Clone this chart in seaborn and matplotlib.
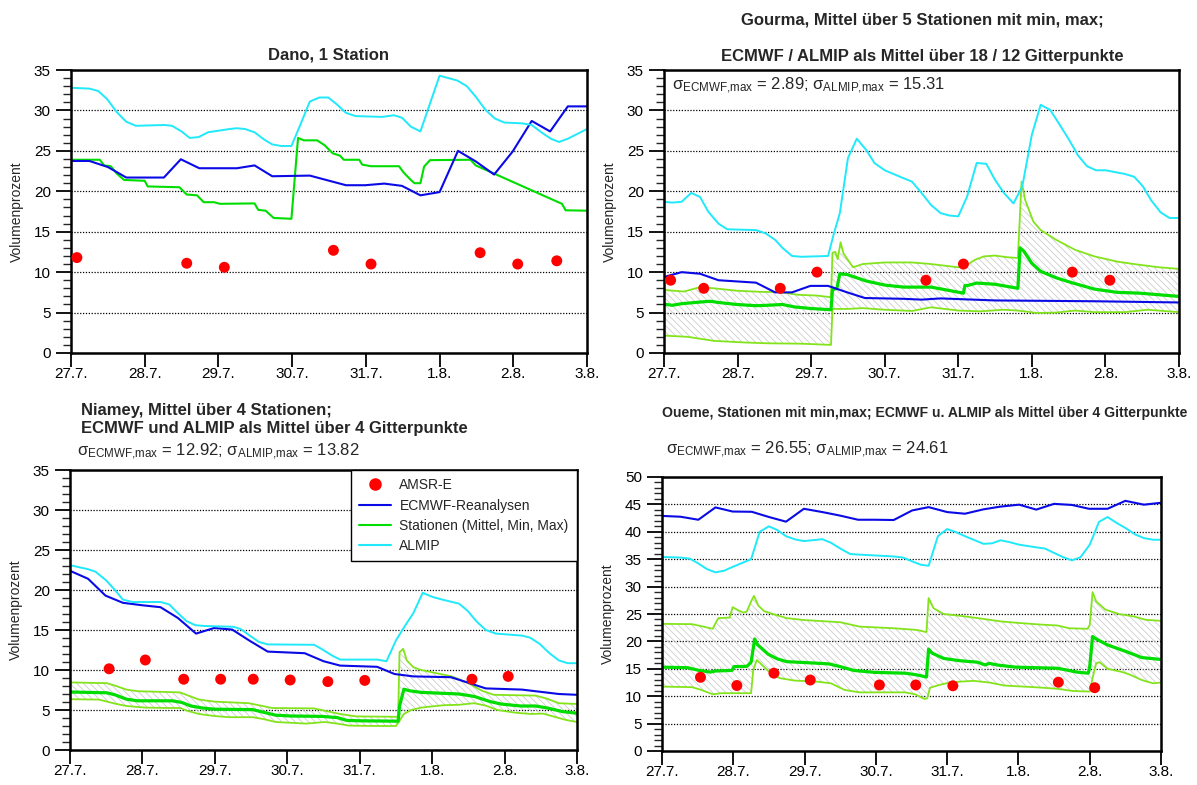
import numpy as np
import matplotlib
matplotlib.use('Agg')
import matplotlib.pyplot as plt
import seaborn as sns
from matplotlib.lines import Line2D
from matplotlib.ticker import MultipleLocator

# x axis: days after 27.7. 00:00
day_labels = ['27.7.', '28.7.', '29.7.', '30.7.', '31.7.', '1.8.', '2.8.', '3.8.']

# ---------------- Dano, 1 Station ----------------
dano_almip_t = [0, 0.25, 0.37, 0.49, 0.62, 0.75, 0.88, 1.27, 1.37, 1.5, 1.61, 1.73, 1.86, 2.15, 2.25, 2.36,
                2.49, 2.62, 2.73, 2.85, 2.99, 3.11, 3.24, 3.37, 3.49, 3.6, 3.73, 3.86, 4.22, 4.38, 4.49, 4.61,
                4.74, 5.0, 5.24, 5.37, 5.49, 5.62, 5.75, 5.88, 6.12, 6.25, 6.38, 6.51, 6.62, 6.74, 7.0]
dano_almip = [32.8, 32.7, 32.4, 31.4, 29.8, 28.6, 28.1, 28.2, 28.1, 27.4, 26.6, 26.7, 27.3, 27.7, 27.8, 27.7,
              27.3, 26.4, 25.8, 25.6, 25.6, 28.2, 31.1, 31.6, 31.6, 30.8, 29.7, 29.3, 29.2, 29.4, 29.1, 28.0,
              27.4, 34.3, 33.7, 33.0, 31.7, 30.1, 29.0, 28.5, 28.4, 28.2, 27.3, 26.5, 26.1, 26.5, 27.7]
dano_ecmwf_t = [0, 0.25, 0.5, 0.75, 1.26, 1.49, 1.74, 2.25, 2.49, 2.73, 3.24, 3.73, 3.99, 4.25, 4.49, 4.74,
                5.0, 5.25, 5.49, 5.74, 5.99, 6.25, 6.5, 6.74, 7.0]
dano_ecmwf = [23.75, 23.75, 23.0, 21.7, 21.7, 23.96, 22.85, 22.85, 23.2, 21.86, 21.94, 20.75, 20.75, 20.95,
              20.67, 19.5, 19.9, 25.0, 23.7, 22.07, 24.9, 28.7, 27.4, 30.5, 30.5]
dano_stat_t = [0, 0.39, 0.45, 0.54, 0.62, 0.72, 1.0, 1.04, 1.47, 1.57, 1.71, 1.8, 1.94, 2.02, 2.49, 2.54,
               2.64, 2.75, 2.99, 3.08, 3.16, 3.34, 3.44, 3.55, 3.65, 3.7, 3.91, 3.95, 4.07, 4.45, 4.51, 4.61,
               4.66, 4.74, 4.79, 4.87, 5.42, 5.49, 5.75, 6.66, 6.71, 7.0]
dano_stat = [23.9, 23.9, 23.2, 23.1, 22.2, 21.4, 21.3, 20.6, 20.5, 19.6, 19.5, 18.65, 18.65, 18.45, 18.5, 17.7,
             17.6, 16.7, 16.6, 26.6, 26.3, 26.3, 25.7, 24.7, 24.4, 23.9, 23.9, 23.3, 23.1, 23.1, 22.35, 21.4,
             21.0, 21.0, 23.05, 23.85, 23.9, 23.2, 22.15, 18.45, 17.65, 17.6]
dano_amsr_t = [0.08, 1.57, 2.08, 3.56, 4.07, 5.55, 6.06, 6.59]
dano_amsr = [11.8, 11.1, 10.6, 12.7, 11.0, 12.4, 11.0, 11.4]

# ---------------- Gourma ----------------
gourma_almip_t = [0, 0.11, 0.24, 0.37, 0.49, 0.6, 0.74, 0.86, 1.25, 1.38, 1.51, 1.61, 1.74, 1.87, 2.23, 2.31,
                  2.39, 2.5, 2.62, 2.75, 2.86, 3.0, 3.26, 3.37, 3.5, 3.63, 3.76, 3.88, 4.0, 4.12, 4.25, 4.38,
                  4.5, 4.62, 4.75, 4.87, 5.0, 5.12, 5.25, 5.38, 5.51, 5.63, 5.75, 5.87, 6.0, 6.26, 6.39, 6.51,
                  6.62, 6.75, 6.87, 7.0]
gourma_almip = [18.7, 18.6, 18.7, 19.8, 19.3, 17.5, 16.0, 15.3, 15.2, 14.8, 14.0, 13.0, 12.0, 11.9, 12.0, 14.8,
                17.3, 24.1, 26.5, 25.1, 23.5, 22.6, 21.6, 21.2, 19.8, 18.3, 17.3, 17.0, 16.9, 19.35, 23.5, 23.4,
                21.4, 19.8, 18.5, 20.6, 27.0, 30.7, 30.05, 28.2, 26.3, 24.4, 23.1, 22.6, 22.6, 22.15, 21.8, 20.6,
                18.9, 17.4, 16.7, 16.7]
gourma_ecmwf_t = [0, 0.24, 0.49, 0.74, 1.25, 1.51, 1.74, 1.99, 2.23, 2.49, 2.73, 3.26, 3.5, 3.76, 4.5, 5.85, 7.0]
gourma_ecmwf = [9.4, 10.0, 9.8, 9.0, 8.7, 7.5, 7.5, 8.3, 8.3, 7.5, 6.8, 6.7, 6.6, 6.75, 6.5, 6.4, 6.25]
gourma_mean_t = [0, 0.11, 0.24, 0.49, 0.63, 0.74, 0.99, 1.25, 1.4, 1.61, 1.77, 2.0, 2.27, 2.29, 2.35, 2.39,
                 2.49, 2.75, 3.0, 3.26, 3.63, 4.07, 4.09, 4.13, 4.25, 4.5, 4.81, 4.84, 4.89, 5.0, 5.12, 5.33,
                 5.54, 5.85, 6.16, 6.47, 6.73, 7.0]
gourma_mean = [6.05, 5.9, 6.1, 6.3, 6.4, 6.25, 6.0, 5.85, 5.9, 6.0, 5.7, 5.5, 5.35, 7.8, 8.0, 9.8,
               9.7, 8.9, 8.4, 8.15, 8.15, 7.4, 8.35, 8.35, 8.65, 8.5, 8.0, 13.0, 12.6, 11.1, 10.1, 9.3,
               8.7, 7.9, 7.5, 7.4, 7.2, 7.0]
gourma_max_t = [0, 0.27, 0.49, 0.68, 0.99, 1.35, 1.56, 1.82, 2.08, 2.27, 2.29, 2.33, 2.36, 2.4, 2.44, 2.57,
                2.7, 3.0, 3.37, 3.63, 4.0, 4.09, 4.22, 4.35, 4.5, 4.66, 4.81, 4.86, 4.91, 5.02, 5.12, 5.33,
                5.59, 5.85, 6.16, 6.47, 6.73, 7.0]
gourma_max = [7.8, 7.6, 8.15, 8.0, 7.7, 7.55, 7.55, 7.2, 7.1, 6.9, 12.4, 12.5, 11.6, 13.7, 12.3, 10.6,
              11.0, 11.2, 11.2, 11.0, 10.6, 10.7, 11.5, 11.95, 12.05, 11.85, 11.75, 21.2, 18.9, 16.25, 15.2, 14.0,
              12.75, 11.95, 11.3, 10.9, 10.6, 10.4]
gourma_min_t = [0, 0.32, 0.68, 1.1, 1.4, 1.87, 2.27, 2.29, 2.49, 2.7, 3.0, 3.37, 3.63, 4.0, 4.3, 4.61,
                4.81, 5.07, 5.33, 5.59, 5.85, 6.26, 6.57, 7.0]
gourma_min = [2.15, 2.0, 1.5, 1.3, 1.2, 1.15, 1.0, 5.45, 5.45, 5.55, 5.35, 5.2, 5.65, 5.25, 5.15, 5.35,
              5.25, 4.95, 5.0, 5.25, 5.05, 5.05, 5.35, 5.05]
gourma_amsr_t = [0.09, 0.54, 1.58, 2.08, 3.56, 4.07, 5.55, 6.06]
gourma_amsr = [9, 8, 8, 10, 9, 11, 10, 9]

# ---------------- Niamey ----------------
niamey_almip_t = [0, 0.25, 0.35, 0.5, 0.62, 0.73, 0.86, 1.25, 1.37, 1.49, 1.61, 1.73, 1.86, 2.26, 2.36, 2.49,
                  2.61, 2.73, 3.37, 3.47, 3.62, 3.73, 4.24, 4.37, 4.5, 4.62, 4.74, 4.87, 5.0, 5.14, 5.37, 5.49,
                  5.61, 5.74, 5.88, 6.24, 6.35, 6.48, 6.62, 6.75, 6.87, 7.0]
niamey_almip = [23.1, 22.6, 22.3, 21.2, 20.0, 18.8, 18.5, 18.5, 18.2, 17.1, 16.1, 15.6, 15.5, 15.4, 15.1, 14.25,
                13.5, 13.2, 13.15, 12.65, 11.8, 11.3, 11.3, 11.1, 13.7, 15.45, 17.1, 19.65, 19.15, 18.8, 18.3, 17.4,
                16.1, 15.0, 14.55, 14.3, 14.05, 13.3, 12.1, 11.2, 10.85, 10.85]
niamey_ecmwf_t = [0, 0.25, 0.49, 0.73, 0.99, 1.25, 1.49, 1.74, 1.99, 2.24, 2.49, 2.73, 3.24, 3.5, 3.73, 4.24,
                  4.48, 4.74, 5.26, 5.74, 6.24, 6.75, 7.0]
niamey_ecmwf = [22.4, 21.4, 19.3, 18.4, 18.1, 17.85, 16.5, 14.55, 15.25, 15.05, 13.6, 12.3, 12.1, 11.1, 10.55, 10.4,
                9.5, 9.2, 9.1, 7.7, 7.55, 7.0, 6.9]
niamey_mean_t = [0, 0.51, 0.62, 0.78, 0.93, 1.41, 1.54, 1.67, 1.83, 1.99, 2.52, 2.68, 2.84, 3.05, 3.48, 3.69,
                 3.82, 4.0, 4.53, 4.55, 4.61, 4.69, 4.85, 5.37, 5.58, 5.8, 5.95, 6.22, 6.43, 6.59, 6.8, 7.0]
niamey_mean = [7.25, 7.15, 6.9, 6.35, 6.15, 6.15, 5.95, 5.5, 5.25, 5.1, 5.05, 4.7, 4.35, 4.25, 4.2, 4.05,
               3.7, 3.65, 3.6, 5.5, 7.6, 7.4, 7.2, 7.0, 6.7, 6.05, 5.75, 5.5, 5.5, 5.25, 4.8, 4.6]
niamey_max_t = [0, 0.51, 0.62, 0.78, 0.93, 1.52, 1.62, 1.78, 1.99, 2.47, 2.63, 2.79, 3.37, 3.52, 3.73, 3.95,
                4.53, 4.55, 4.58, 4.6, 4.65, 4.74, 4.85, 5.06, 5.27, 5.48, 5.69, 5.85, 6.43, 6.59, 6.75, 7.0]
niamey_max = [8.45, 8.35, 8.05, 7.55, 7.35, 7.2, 6.85, 6.3, 6.05, 5.85, 5.55, 5.25, 5.2, 4.9, 4.5, 4.2,
              4.15, 12.25, 12.45, 12.65, 11.2, 10.35, 10.0, 9.6, 9.2, 8.45, 7.4, 6.9, 6.8, 6.4, 5.85, 5.75]
niamey_min_t = [0, 0.4, 0.62, 0.78, 1.04, 1.36, 1.52, 1.62, 1.78, 1.99, 2.2, 2.52, 2.68, 2.84, 3.26, 3.52,
                3.69, 3.85, 4.21, 4.5, 4.55, 4.61, 4.71, 4.85, 5.16, 5.37, 5.58, 5.74, 5.9, 6.16, 6.37, 6.53,
                6.69, 6.85, 7.0]
niamey_min = [6.35, 6.3, 5.8, 5.5, 5.3, 5.25, 5.25, 4.9, 4.5, 4.25, 4.1, 4.1, 3.85, 3.5, 3.3, 3.5,
              3.3, 3.05, 3.0, 3.0, 3.65, 4.5, 5.0, 5.3, 5.6, 5.65, 5.85, 5.55, 5.0, 4.65, 4.5, 4.55,
              4.15, 3.75, 3.5]
niamey_amsr_t = [0.54, 1.04, 1.57, 2.08, 2.53, 3.04, 3.56, 4.07, 5.55, 6.05]
niamey_amsr = [10.15, 11.25, 8.85, 8.85, 8.85, 8.75, 8.55, 8.7, 8.85, 9.2]

# ---------------- Oueme ----------------
oueme_ecmwf_t = [0, 0.26, 0.51, 0.75, 0.99, 1.26, 1.5, 1.74, 1.99, 2.25, 2.5, 2.75, 2.99, 3.25, 3.51, 3.74,
                 4.0, 4.25, 4.51, 4.75, 5.01, 5.25, 5.5, 5.75, 5.99, 6.25, 6.5, 6.76, 7.0]
oueme_ecmwf = [42.9, 42.75, 42.2, 44.45, 43.7, 43.65, 42.7, 41.85, 44.2, 43.6, 42.95, 42.2, 42.2, 42.15, 43.9, 44.5,
               43.6, 43.3, 44.1, 44.6, 44.95, 44.05, 45.1, 44.9, 44.2, 44.2, 45.65, 44.95, 45.3]
oueme_almip_t = [0, 0.26, 0.39, 0.5, 0.63, 0.75, 0.87, 1.01, 1.25, 1.37, 1.5, 1.62, 1.74, 1.87, 1.99, 2.25,
                 2.37, 2.5, 2.64, 2.75, 3.25, 3.38, 3.51, 3.63, 3.74, 3.87, 4.0, 4.13, 4.25, 4.39, 4.51, 4.63,
                 4.75, 4.88, 5.01, 5.23, 5.37, 5.5, 5.63, 5.75, 5.87, 6.0, 6.13, 6.25, 6.38, 6.5, 6.64, 6.76,
                 6.89, 7.0]
oueme_almip = [35.4, 35.3, 35.1, 34.3, 33.2, 32.6, 32.9, 33.7, 35.0, 40.0, 41.0, 40.3, 39.2, 38.6, 38.3, 38.65,
               38.0, 36.95, 35.95, 35.85, 35.5, 35.3, 34.6, 34.0, 33.8, 39.2, 40.5, 39.9, 39.2, 38.45, 37.8, 37.9,
               38.45, 38.1, 37.65, 37.2, 36.95, 36.15, 35.35, 34.8, 35.35, 37.65, 41.8, 42.7, 41.6, 40.7, 39.5, 38.85,
               38.55, 38.55]
oueme_mean_t = [0, 0.36, 0.52, 0.68, 0.75, 0.98, 1.01, 1.19, 1.25, 1.3, 1.34, 1.49, 1.62, 1.75, 1.99, 2.34,
                2.5, 2.69, 2.98, 3.41, 3.57, 3.71, 3.74, 3.79, 3.95, 4.16, 4.43, 4.53, 4.59, 4.7, 4.96, 5.55,
                5.82, 5.98, 6.0, 6.04, 6.09, 6.25, 6.51, 6.73, 7.0]
oueme_mean = [15.3, 15.2, 14.7, 14.4, 14.6, 14.7, 15.4, 15.45, 16.2, 20.45, 19.4, 17.65, 16.8, 16.3, 16.15, 15.9,
              15.4, 14.7, 14.35, 14.2, 13.9, 13.5, 18.6, 17.85, 16.9, 16.5, 16.2, 15.7, 16.0, 15.7, 15.3, 15.1,
              14.4, 14.2, 15.4, 20.9, 20.45, 19.35, 18.15, 17.05, 16.7]
oueme_max_t = [0, 0.42, 0.58, 0.71, 0.79, 0.95, 0.99, 1.06, 1.14, 1.19, 1.25, 1.29, 1.35, 1.43, 1.59, 1.75,
               1.99, 2.5, 2.77, 3.25, 3.57, 3.71, 3.74, 3.81, 3.95, 4.16, 4.43, 4.75, 5.02, 5.34, 5.55, 5.71,
               5.97, 6.0, 6.04, 6.09, 6.22, 6.41, 6.62, 6.78, 7.0]
oueme_max = [23.2, 23.15, 22.7, 22.3, 24.25, 24.35, 26.25, 25.75, 25.25, 25.45, 27.3, 28.3, 26.55, 25.55, 24.85, 24.25,
             23.9, 23.5, 22.7, 22.4, 22.1, 21.7, 27.9, 26.05, 25.0, 24.7, 24.25, 23.65, 23.35, 23.05, 22.9, 22.4,
             22.3, 23.0, 29.0, 27.3, 25.8, 25.0, 24.55, 23.95, 23.75]
oueme_min_t = [0, 0.42, 0.55, 0.71, 0.84, 1.25, 1.28, 1.33, 1.38, 1.49, 1.65, 1.86, 2.18, 2.37, 2.56, 2.77,
               3.41, 3.55, 3.68, 3.72, 3.76, 3.89, 4.05, 4.37, 4.59, 4.8, 5.28, 5.55, 5.76, 6.0, 6.04, 6.09,
               6.14, 6.25, 6.46, 6.57, 6.73, 6.89, 7.0]
oueme_min = [11.75, 11.65, 11.15, 10.35, 10.55, 10.55, 14.8, 16.6, 16.0, 14.6, 13.3, 12.85, 12.65, 12.35, 11.15, 10.7,
             10.7, 10.35, 9.5, 9.6, 11.55, 12.05, 12.55, 12.8, 12.5, 11.95, 11.6, 11.35, 10.95, 10.85, 13.3, 16.0,
             16.2, 15.0, 14.4, 13.9, 12.95, 12.35, 12.5]
oueme_amsr_t = [0.54, 1.05, 1.57, 2.08, 3.05, 3.56, 4.08, 5.56, 6.07]
oueme_amsr = [13.45, 11.95, 14.2, 12.95, 12.05, 12.05, 11.9, 12.55, 11.55]

# colours
c_amsr = '#ff0000'
c_ecmwf = '#0a0ae6'
c_stat = '#00dd00'
c_minmax = '#84e41c'
c_almip = '#1fe9fa'
c_hatch = '#cdcdcd'

sns.set_style('ticks')
plt.rcParams['font.family'] = ['Liberation Sans', 'DejaVu Sans']
plt.rcParams['mathtext.default'] = 'regular'
plt.rcParams['hatch.linewidth'] = 0.6

W, H = 1197, 785
fig = plt.figure(figsize=(W / 100, H / 100), dpi=100)


def px_axes(left, top, right, bottom):
    ax = fig.add_axes([left / W, 1 - bottom / H, (right - left) / W, (bottom - top) / H])
    ax.set_facecolor('white')
    return ax


def ftext(x, y, s, **kw):
    fig.text(x / W, 1 - y / H, s, **kw)


def line(ax, t, y, color, lw):
    sns.lineplot(x=np.array(t), y=np.array(y), ax=ax, color=color, linewidth=lw,
                 sort=False, estimator=None, legend=False)


def band(ax, tmax, ymax, tmin, ymin):
    xs = np.concatenate([tmax, tmin[::-1]])
    ys = np.concatenate([ymax, ymin[::-1]])
    ax.fill(xs, ys, facecolor='none', edgecolor=c_hatch, hatch='\\\\\\\\\\', linewidth=0, zorder=1)


def dots(ax, t, y):
    sns.scatterplot(x=t, y=y, ax=ax, color=c_amsr, s=62, edgecolor='none', zorder=5, legend=False)


def style(ax, ytop, width_px):
    ax.set_xlim(0, 7)
    ax.set_ylim(0, ytop)
    ax.set_xticks(range(8))
    ax.set_xticklabels(day_labels)
    ax.yaxis.set_major_locator(MultipleLocator(5))
    ax.yaxis.set_minor_locator(MultipleLocator(1))
    ax.grid(False)
    ax.yaxis.grid(True, which='major', color='black', linestyle=(0, (1, 1.3)), linewidth=0.9)
    ax.set_axisbelow(True)
    ax.tick_params(axis='y', which='major', length=11, width=1.3, direction='out', labelsize=11,
                   pad=3.5, right=False, colors='black')
    ax.tick_params(axis='y', which='minor', length=6, width=1.0, direction='out', right=False)
    ax.tick_params(axis='x', which='major', length=10, width=1.3, direction='out', labelsize=11,
                   pad=0, top=False, colors='black')
    ax.tick_params(axis='x', which='minor', bottom=False, top=False)
    for s in ax.spines.values():
        s.set_visible(True)
        s.set_linewidth(1.8)
        s.set_color('black')
    ax.set_xlabel('')
    ax.set_ylabel('Volumenprozent', fontsize=10)
    ax.yaxis.set_label_coords(-47 / width_px, 0.5)


sig = r'$\sigma_{ECMWF{,}max}$ = {e}; $\sigma_{ALMIP{,}max}$ = {a}'

# ---- top left: Dano ----
ax1 = px_axes(71, 70, 587, 353)
line(ax1, dano_stat_t, dano_stat, c_stat, 1.5)
line(ax1, dano_ecmwf_t, dano_ecmwf, c_ecmwf, 1.5)
line(ax1, dano_almip_t, dano_almip, c_almip, 1.4)
dots(ax1, dano_amsr_t, dano_amsr)
style(ax1, 35, 516)
ftext(329, 55, 'Dano, 1 Station', ha='center', va='center', fontsize=12, fontweight='bold')

# ---- top right: Gourma ----
ax2 = px_axes(664, 70, 1179, 353)
band(ax2, gourma_max_t, gourma_max, gourma_min_t, gourma_min)
line(ax2, gourma_max_t, gourma_max, c_minmax, 1.3)
line(ax2, gourma_min_t, gourma_min, c_minmax, 1.3)
line(ax2, gourma_mean_t, gourma_mean, c_stat, 2.3)
line(ax2, gourma_ecmwf_t, gourma_ecmwf, c_ecmwf, 1.5)
line(ax2, gourma_almip_t, gourma_almip, c_almip, 1.4)
dots(ax2, gourma_amsr_t, gourma_amsr)
style(ax2, 35, 515)
ftext(922, 20, 'Gourma, Mittel über 5 Stationen mit min, max;', ha='center', va='center',
      fontsize=12, fontweight='bold')
ftext(922, 57, 'ECMWF / ALMIP als Mittel über 18 / 12 Gitterpunkte', ha='center', va='center',
      fontsize=12, fontweight='bold')
ftext(672, 86, sig.replace('{e}', '2.89').replace('{a}', '15.31'), ha='left', va='center', fontsize=12)

# ---- bottom left: Niamey ----
ax3 = px_axes(70, 470, 577, 750)
band(ax3, niamey_max_t, niamey_max, niamey_min_t, niamey_min)
line(ax3, niamey_max_t, niamey_max, c_minmax, 1.3)
line(ax3, niamey_min_t, niamey_min, c_minmax, 1.3)
line(ax3, niamey_mean_t, niamey_mean, c_stat, 2.3)
line(ax3, niamey_ecmwf_t, niamey_ecmwf, c_ecmwf, 1.5)
line(ax3, niamey_almip_t, niamey_almip, c_almip, 1.4)
dots(ax3, niamey_amsr_t, niamey_amsr)
style(ax3, 35, 507)
ftext(81, 410, 'Niamey, Mittel über 4 Stationen;', ha='left', va='center', fontsize=12, fontweight='bold')
ftext(81, 428, 'ECMWF und ALMIP als Mittel über 4 Gitterpunkte', ha='left', va='center',
      fontsize=12, fontweight='bold')
ftext(77, 452, sig.replace('{e}', '12.92').replace('{a}', '13.82'), ha='left', va='center', fontsize=12)

handles = [Line2D([], [], marker='o', color=c_amsr, linestyle='none', markersize=8),
           Line2D([], [], color=c_ecmwf, lw=1.5),
           Line2D([], [], color=c_stat, lw=1.5),
           Line2D([], [], color=c_almip, lw=1.5)]
labels = ['AMSR-E', 'ECMWF-Reanalysen', 'Stationen (Mittel, Min, Max)', 'ALMIP']
leg = ax3.legend(handles, labels, loc='upper right', frameon=True, fancybox=False, edgecolor='black',
                 framealpha=1, fontsize=10, borderaxespad=0, handlelength=2.3, labelspacing=0.45,
                 borderpad=0.6, handletextpad=0.6)
leg.get_frame().set_linewidth(1.0)

# ---- bottom right: Oueme ----
ax4 = px_axes(662, 477, 1161, 751)
band(ax4, oueme_max_t, oueme_max, oueme_min_t, oueme_min)
line(ax4, oueme_max_t, oueme_max, c_minmax, 1.3)
line(ax4, oueme_min_t, oueme_min, c_minmax, 1.3)
line(ax4, oueme_mean_t, oueme_mean, c_stat, 2.3)
line(ax4, oueme_ecmwf_t, oueme_ecmwf, c_ecmwf, 1.5)
line(ax4, oueme_almip_t, oueme_almip, c_almip, 1.4)
dots(ax4, oueme_amsr_t, oueme_amsr)
style(ax4, 50, 499)
ftext(662, 413, 'Oueme, Stationen mit min,max; ECMWF u. ALMIP als Mittel über 4 Gitterpunkte',
      ha='left', va='center', fontsize=10.1, fontweight='bold')
ftext(666, 450, sig.replace('{e}', '26.55').replace('{a}', '24.61'), ha='left', va='center', fontsize=12)

fig.savefig('out.png', dpi=100)
